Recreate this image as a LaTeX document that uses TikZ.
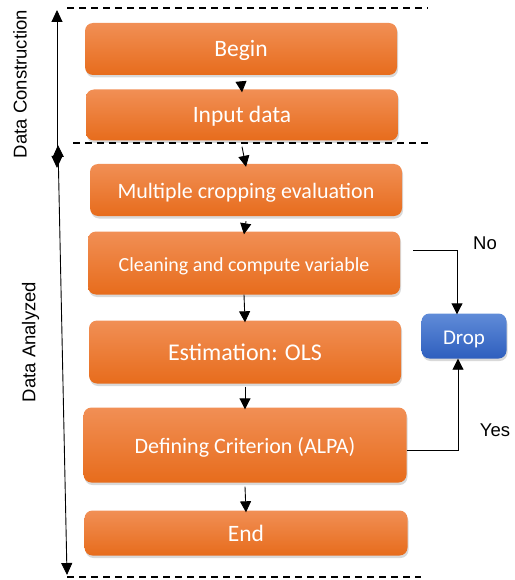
\documentclass[tikz,border=0pt]{standalone}
\usepackage{fontspec}
\setmainfont{Carlito}
\newfontfamily\labelfont{Liberation Sans}
\usetikzlibrary{arrows.meta,shadows}
\definecolor{orangetop}{RGB}{241,143,85}
\definecolor{orangebot}{RGB}{231,108,28}
\definecolor{bluetop}{RGB}{96,140,216}
\definecolor{bluebot}{RGB}{46,94,190}

\begin{document}
\begin{tikzpicture}[x=1pt,y=-1pt]
    \tikzstyle{every node}+=[inner sep=0pt]
    \tikzstyle{box}=[rounded corners=8pt, top color=orangetop, bottom color=orangebot, text=white, minimum width=312pt, text height=16pt, text depth=0pt, drop shadow={shadow xshift=1pt, shadow yshift=-2.5pt, opacity=0.3}]
    \tikzstyle{dropbox}=[box, top color=bluetop, bottom color=bluebot, minimum width=85pt]
    \tikzstyle{arr}=[-{Triangle[width=11pt,length=11pt]}, line width=0.9pt]
    \tikzstyle{sidearr}=[{Triangle[width=11pt,length=12pt]}-{Triangle[width=11pt,length=12pt]}, line width=0.9pt]
    \tikzstyle{sep}=[dash pattern=on 7pt off 5pt, line width=1.1pt]
    \tikzstyle{lbl}=[font=\labelfont\fontsize{18.5}{22}\selectfont]
    \useasboundingbox (0,0) rectangle (514,580);
    % boxes
    \node [box, minimum height=52pt, font=\fontsize{23.5}{28}\selectfont] (begin) at (241,49) {Begin};
    \node [box, minimum height=51pt, font=\fontsize{23.5}{28}\selectfont] (input) at (242,115) {Input data};
    \node [box, minimum height=52pt, font=\fontsize{22}{26}\selectfont] (multi) at (246,190) {Multiple cropping evaluation};
    \node [box, minimum height=63pt, font=\fontsize{20}{24}\selectfont] (clean) at (244,263) {Cleaning and compute variable};
    \node [box, minimum height=63pt, font=\fontsize{24}{28}\selectfont] (estim) at (245,352) {Estimation: OLS};
    \node [box, minimum height=75pt, minimum width=323pt, font=\fontsize{22}{26}\selectfont] (crit) at (245,445) {Defining Criterion (ALPA)};
    \node [box, minimum height=45pt, minimum width=323pt, font=\fontsize{23.5}{28}\selectfont] (endb) at (246,533) {End};
    \node [dropbox, minimum height=45pt, font=\fontsize{21}{25}\selectfont] (drop) at (464,336) {Drop};
    % flow
    \draw [arr] ([yshift=-6pt]begin.south) -- ([yshift=-3pt]input.north);
    \draw [arr] ([yshift=-6pt]input.south) -- ([yshift=-3pt]multi.north);
    \draw [arr] ([yshift=-5pt]multi.south) -- ([yshift=-3pt]clean.north);
    \draw [arr] (clean.south) -- ([yshift=-2pt]estim.north);
    \draw [arr] ([yshift=-3pt]estim.south) -- ([yshift=-2pt]crit.north);
    \draw [arr] ([yshift=-4pt]crit.south) -- ([yshift=-2pt]endb.north);
    \draw [arr] ([xshift=13pt,yshift=13pt]clean.east) -| ([xshift=-7pt,yshift=-1pt]drop.north);
    \draw [arr] ([yshift=-5pt]crit.east) -| ([xshift=-6pt]drop.south);
    \node [lbl] (no) at (485,243) {No};
    \node [lbl] (yes) at (495,430) {Yes};
    % sections
    \coordinate (ctop) at (57,10);
    \coordinate (cbot) at (57,168);
    \coordinate (atop) at (58,145);
    \coordinate (abot) at (67,575);
    \draw [sidearr] (cbot) -- (ctop);
    \draw [sidearr] (atop) -- (abot);
    \node [lbl, rotate=90] (lconst) at (20,84) {Data Construction};
    \node [lbl, rotate=90] (lanal) at (30.5,342) {Data Analyzed};
    \coordinate (s1a) at (67,8);
    \coordinate (s1b) at (428,8);
    \coordinate (s2a) at (73,143);
    \coordinate (s2b) at (428,143);
    \coordinate (s3a) at (67,577);
    \coordinate (s3b) at (421,577);
    \draw [sep] (s1a) -- (s1b);
    \draw [sep] (s2a) -- (s2b);
    \draw [sep] (s3a) -- (s3b);
\end{tikzpicture}
\end{document}
